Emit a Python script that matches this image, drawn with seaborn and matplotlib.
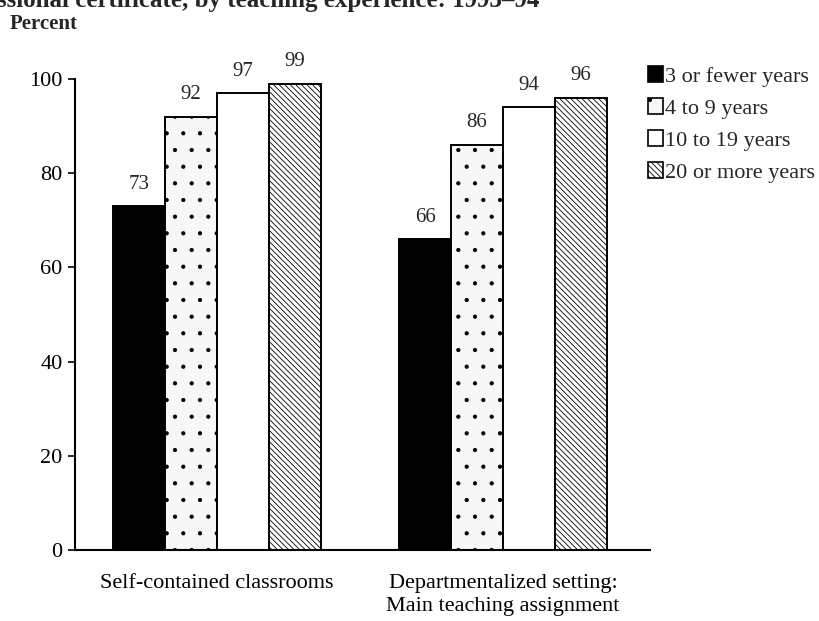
import pandas as pd
import matplotlib
matplotlib.use("Agg")
import matplotlib.pyplot as plt
from matplotlib.patches import Patch
import seaborn as sns

# data
settings = ["Self-contained classrooms", "Departmentalized setting:\nMain teaching assignment"]
experience = ["3 or fewer years", "4 to 9 years", "10 to 19 years", "20 or more years"]
self_contained = [73, 92, 97, 99]
departmentalized = [66, 86, 94, 96]
y_ticks = [0, 20, 40, 60, 80, 100]

df = pd.DataFrame({
    "setting": [settings[0]] * 4 + [settings[1]] * 4,
    "experience": experience * 2,
    "percent": self_contained + departmentalized,
})

sns.set_style("white")
plt.rcParams["font.family"] = ["Liberation Serif", "DejaVu Serif"]
plt.rcParams["hatch.linewidth"] = 0.6

fig = plt.figure(figsize=(8.19, 6.21), dpi=100)
ax = fig.add_axes([0.0916, 0.1143, 0.702, 0.7585])

colors = ["black", "#f7f7f7", "white", "white"]
hatches = ["", ".", "", "\\\\\\\\\\\\"]

sns.barplot(data=df, x="setting", y="percent", hue="experience", hue_order=experience,
            palette=colors, width=0.727, edgecolor="black", linewidth=1.4, ax=ax, legend=False)

for cont, h in zip(ax.containers, hatches):
    for bar in cont:
        bar.set_hatch(h)
    ax.bar_label(cont, fontsize=15, padding=9)

ax.set_ylim(0, 100)
ax.set_xlim(-0.497, 1.514)
ax.set_yticks(y_ticks)
ax.tick_params(axis="y", labelsize=16, length=5, width=1.2, direction="out", left=True, pad=4,
               colors="black")
ax.tick_params(axis="x", labelsize=16, length=0, pad=17, colors="black")
for lbl in ax.get_xticklabels():
    lbl.set_linespacing(1.3)
ax.set_xlabel("")
ax.set_ylabel("")
sns.despine(ax=ax)
for s in ["left", "bottom"]:
    ax.spines[s].set_linewidth(1.5)
    ax.spines[s].set_color("black")

# legend built from the same colours
handles = [Patch(facecolor=c, edgecolor="black", hatch=h, linewidth=1.2) for c, h in zip(colors, hatches)]
fig.legend(handles, experience, loc="upper left", bbox_to_anchor=(0.791, 0.893), frameon=False,
           fontsize=16, handlelength=0.68, handleheight=0.68, handletextpad=0.08, labelspacing=0.52,
           borderaxespad=0, borderpad=0)

fig.text(0.012, 0.962, "Percent", fontsize=15, fontweight="bold", va="center")
fig.text(-0.004, 0.988, "ssional certificate, by teaching experience: 1993\u201394",
         fontsize=18, fontweight="bold", va="baseline")

fig.savefig("out.png", dpi=100)
